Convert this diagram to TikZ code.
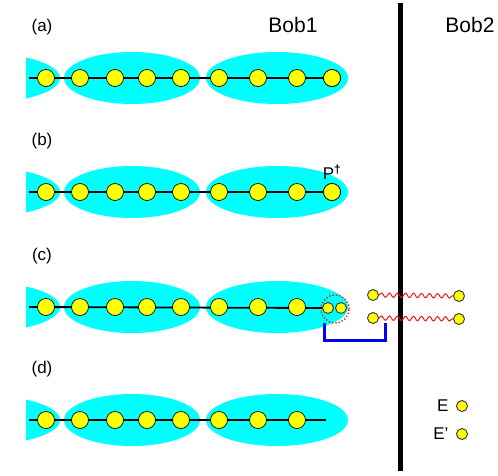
\documentclass[tikz,border=0pt]{standalone}
\usepackage{fontspec}
\setmainfont{Liberation Sans}
\usetikzlibrary{decorations.pathmorphing}

\definecolor{blobcyan}{RGB}{0,255,255}
\definecolor{dotyellow}{RGB}{255,255,0}
\definecolor{bracketblue}{RGB}{0,0,255}

\tikzset{
    blob/.style = {fill=blobcyan, draw=none},
    site/.style = {circle, draw=black, fill=dotyellow, line width=0.7pt, minimum size=17pt, inner sep=0pt},
    smallsite/.style = {circle, draw=black!75, fill=dotyellow, line width=1pt, minimum size=11pt, inner sep=0pt},
    chain/.style = {line width=1.8pt},
    rowlabel/.style = {font=\fontsize{17}{19}\selectfont},
    bobname/.style = {font=\fontsize{21}{24}\selectfont},
    wave/.style = {red, line width=0.9pt, decorate, decoration={snake, amplitude=2.2pt, segment length=8pt}},
}

\begin{document}
\begin{tikzpicture}[x=1pt, y=-1pt]
        \useasboundingbox (0,0) rectangle (498,475);

        % row labels and the two sides
        \node[rowlabel] (la) at (42,27) {(a)};
        \node[rowlabel] (lb) at (42,141) {(b)};
        \node[rowlabel] (lc) at (42,256) {(c)};
        \node[rowlabel] (ld) at (42,369) {(d)};
        \node[bobname] (bob1) at (293,25) {Bob1};
        \node[bobname] (bob2) at (470,25) {Bob2};

        % blobs
        \foreach \y in {78,192,307,420}
        {
            \begin{scope}
                \clip (26,\y-40) rectangle (70,\y+40);
                \fill[blob] (-20,\y) ellipse [x radius=80, y radius=25];
            \end{scope}
            \fill[blob] (132,\y) ellipse [x radius=68, y radius=26];
            \fill[blob] (277,\y) ellipse [x radius=71, y radius=26];
        }

        % chains
        \coordinate (a0) at (29,78);
        \coordinate (b0) at (29,192);
        \coordinate (c0) at (29,307);
        \coordinate (d0) at (29,420);
        \coordinate (dE) at (326,420);

        \node[site] (a9) at (332,78) {};
        \node[site] (b9) at (332,192) {};
        \node[smallsite] (c9) at (328,308) {};
        \node[smallsite] (c10) at (341,308) {};

        \draw[chain] (a0) -- (a9.center);
        \draw[chain] (b0) -- (b9.center);
        \draw[chain] (c0) -- (c9.west);
        \draw[chain] (d0) -- (dE);

        \node[site] at (a9) {};
        \node[site] at (b9) {};
        \foreach \r/\y in {a/78,b/192,c/307,d/420}
        \foreach \n/\x in {1/46,2/80,3/115,4/147,5/181,6/219,7/258,8/297}
        \node[site] (\r\n) at (\x,\y) {};

        \node[rowlabel] (pdag) at (b9.north) [above=0pt] {P\textsuperscript{\bfseries\textdagger}};

        % measurement in (c)
        \node[circle, draw=red, dotted, line width=1.3pt, minimum size=28pt] (pair) at (335,309) {};
        \coordinate (bl) at (324,323);
        \coordinate (br) at (385,323);
        \draw[bracketblue, line width=3pt] (bl) -- ++(0,17) -| (br);

        % separation between Bob1 and Bob2
        \coordinate (wtop) at (400,3);
        \coordinate (wbot) at (400,471);
        \draw[line width=5pt] (wtop) -- (wbot);

        % entangled pairs
        \node[smallsite] (p1) at (373,295) {};
        \node[smallsite] (p2) at (373,318) {};
        \node[smallsite] (q1) at (459,296) {};
        \node[smallsite] (q2) at (459,319) {};
        \draw[wave] (p1) -- (q1);
        \draw[wave] (p2) -- (q2);

        % Bob2 in (d)
        \node[smallsite] (e1) at (462,406) {};
        \node[smallsite] (e2) at (462,434) {};
        \node[rowlabel, left=4pt] (le1) at (e1.west) {E};
        \node[rowlabel, left=4pt] (le2) at (e2.west) {E'};
    \end{tikzpicture}
\end{document}
